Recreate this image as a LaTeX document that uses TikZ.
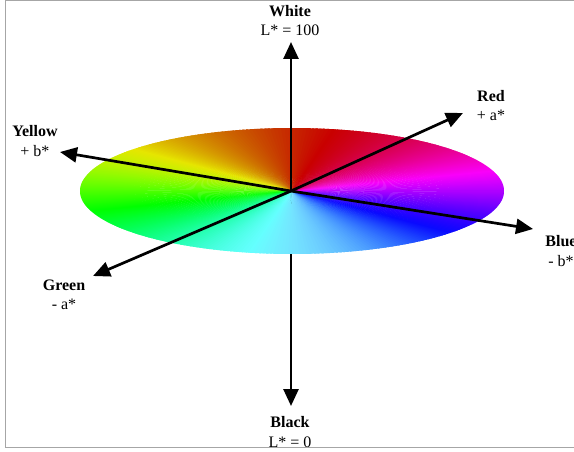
\documentclass[tikz,border=0pt]{standalone}
\usepackage{fontspec}
\setmainfont{Liberation Serif}
\usetikzlibrary{arrows.meta}

\tikzset{
  axis/.style={line width=2.7pt, -{Triangle[length=17pt,width=15pt]}},
  lab/.style={align=center, font=\fontsize{16}{19.5}\selectfont, inner sep=0pt},
}

\begin{document}
\begin{tikzpicture}[x=1pt,y=-1pt]
    \useasboundingbox (0,0) rectangle (574,452);
    \begin{scope}
    \clip (0,0) rectangle (574,447.5);

    % Centre et bouts des axes
    \coordinate (O) at (291,191);
    \coordinate (whitetip) at (291,42);
    \coordinate (blacktip) at (291,406);
    \coordinate (redtip) at (463,113);
    \coordinate (yellowtip) at (60,152);
    \coordinate (bluetip) at (533,229);
    \coordinate (greentip) at (93,276);

    % Axe L* vers le bas (cache par le disque)
    \draw[axis] (O) -- (blacktip);

    % Disque des teintes
    \begin{scope}[shift={(292,191)}]
        \foreach \t in {0,...,359} {
            \pgfmathsetmacro\hh{mod(\t+282,360)/360}
            \pgfmathsetmacro\ss{1-0.45*max(0,-sin(\t))^6}
            \pgfmathsetmacro\bb{1-0.22*max(0,sin(\t))^2}
            \definecolor{wc}{hsb}{\hh,\ss,\bb}
            \fill[wc] (0,0) -- ({212*cos(\t)},{-63*sin(\t)})
                -- ({212*cos(\t+1.6)},{-63*sin(\t+1.6)}) -- cycle;
        }
    \end{scope}

    % Axes
    \draw[axis] (O) -- (whitetip);
    \draw[axis] (O) -- (redtip);
    \draw[axis] (O) -- (yellowtip);
    \draw[axis] (O) -- (bluetip);
    \draw[axis] (O) -- (greentip);

    % Labels
    \node[lab] (white) at (290,20.5) {\textbf{White}\\L* = 100};
    \node[lab] (red) at (491,105.5) {\textbf{Red}\\+ a*};
    \node[lab] (yellow) at (35,141) {\textbf{Yellow}\\+ b*};
    \node[lab] (blue) at (561,251) {\textbf{Blue}\\- b*};
    \node[lab] (green) at (64,295) {\textbf{Green}\\- a*};
    \node[lab] (black) at (290,432) {\textbf{Black}\\L* = 0};
    \end{scope}

    % Cadre
    \draw[gray!70, line width=1.2pt] (574,0.6) -- (5.6,0.6) -- (5.6,447.5) -- (574,447.5);
\end{tikzpicture}
\end{document}
